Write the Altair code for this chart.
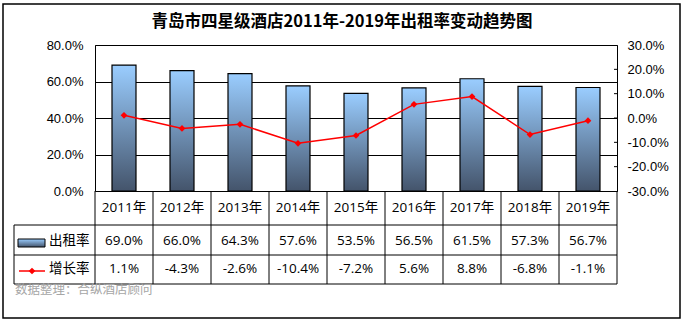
import altair as alt
import pandas as pd

years = ["2011年", "2012年", "2013年", "2014年", "2015年", "2016年", "2017年", "2018年", "2019年"]
occupancy = [0.690, 0.660, 0.643, 0.576, 0.535, 0.565, 0.615, 0.573, 0.567]
growth = [0.011, -0.043, -0.026, -0.104, -0.072, 0.056, 0.088, -0.068, -0.011]
series_names = ["出租率", "增长率"]
title_text = "青岛市四星级酒店2011年-2019年出租率变动趋势图"
source_text = "数据整理：合纵酒店顾问"
left_ticks = [0.0, 0.2, 0.4, 0.6, 0.8]
right_ticks = [-0.3, -0.2, -0.1, 0.0, 0.1, 0.2, 0.3]
right_minor = [-0.2, -0.1, 0.0, 0.1, 0.2]

df = pd.DataFrame({"year": years, "occ": occupancy, "gr": growth})
one = pd.DataFrame({"k": [0]})

W, H = 522, 146
TFONT = "Open Sans, Noto Sans CJK SC"
AFONT = "Liberation Sans, Arial"

xscale = alt.Scale(paddingInner=0, paddingOuter=0)
x_enc = alt.X("year:N", sort=years, scale=xscale, axis=None)

grad = alt.LinearGradient(
    gradient="linear",
    stops=[alt.GradientStop(color="#9ACDFF", offset=0),
           alt.GradientStop(color="#44546B", offset=1)],
    x1=0, x2=0, y1=0, y2=1,
)

bars = alt.Chart(df).mark_bar(size=24, fill=grad, stroke="black", strokeWidth=1.2).encode(
    x=x_enc,
    y=alt.Y("occ:Q", scale=alt.Scale(domain=[0, 0.8]),
            axis=alt.Axis(values=left_ticks, format=".1%", grid=True, gridColor="black",
                          gridOpacity=1, gridWidth=1, domain=False, ticks=False,
                          labelPadding=12, title=None, labelFont=AFONT,
                          labelFontSize=13, labelColor="black")),
)

right_axis = alt.Axis(orient="right", values=right_ticks, format=".1%",
                      labelExpr="replace(datum.label, '\u2212', '-')",
                      grid=False, domain=False, ticks=False, labelPadding=10,
                      title=None, labelFont=AFONT, labelFontSize=13, labelColor="black")
yr = alt.Y("gr:Q", scale=alt.Scale(domain=[-0.3, 0.3]), axis=right_axis)

line = alt.Chart(df).mark_line(
    color="#FF0000", strokeWidth=1.5,
    point=alt.OverlayMarkDef(shape="diamond", filled=True, color="#FF0000", size=45),
).encode(x=x_enc, y=yr)

rticks = alt.Chart(pd.DataFrame({"gr": right_minor})).mark_rule(color="black").encode(
    y=yr, x=alt.value(W - 3), x2=alt.value(W)
)

left_group = alt.layer(bars)
right_group = alt.layer(line, rticks)

# data table grid
vlines = alt.Chart(df).mark_rule(color="black").encode(
    x=alt.X("year:N", sort=years, scale=xscale, axis=None, bandPosition=0),
    y=alt.value(H), y2=alt.value(239),
)
def rule(x1, x2, y1, y2):
    return alt.Chart(one).mark_rule(color="black", strokeWidth=1).encode(
        x=alt.value(x1), x2=alt.value(x2), y=alt.value(y1), y2=alt.value(y2))

grid_rules = [
    rule(W, W, H, 239),
    rule(-81, W, 180, 180),
    rule(-81, W, 210, 210),
    rule(-81, W, 239, 239),
    rule(-81, -81, 180, 239),
]

year_text = alt.Chart(df).mark_text(font=TFONT, fontSize=13.5, color="black").encode(
    x=x_enc, y=alt.value(163), text="year:N")
occ_text = alt.Chart(df).transform_calculate(
    lab="replace(format(datum.occ, '.1%'), '\u2212', '-')"
).mark_text(font=TFONT, fontSize=13.5, color="black").encode(
    x=x_enc, y=alt.value(196), text="lab:N")
gr_text = alt.Chart(df).transform_calculate(
    lab="replace(format(datum.gr, '.1%'), '\u2212', '-')"
).mark_text(font=TFONT, fontSize=13.5, color="black").encode(
    x=x_enc, y=alt.value(224), text="lab:N")

leg_txt1 = alt.Chart(one).mark_text(font=TFONT, fontSize=13.5, align="left", color="black").encode(
    x=alt.value(-46), y=alt.value(196), text=alt.value(series_names[0]))
leg_txt2 = alt.Chart(one).mark_text(font=TFONT, fontSize=13.5, align="left", color="black").encode(
    x=alt.value(-46), y=alt.value(224), text=alt.value(series_names[1]))
leg_sw1 = alt.Chart(one).mark_rect(fill=grad, stroke="black", strokeWidth=1).encode(
    x=alt.value(-77), x2=alt.value(-50), y=alt.value(194), y2=alt.value(202))
leg_sw2 = alt.Chart(one).mark_rule(color="#FF0000", strokeWidth=1.5).encode(
    x=alt.value(-76), x2=alt.value(-50), y=alt.value(226))
leg_pt = alt.Chart(one).mark_point(shape="diamond", filled=True, color="#FF0000", size=45, opacity=1).encode(
    x=alt.value(-63), y=alt.value(226))

title = alt.Chart(one).mark_text(font="Noto Sans CJK SC", fontSize=16.5, fontWeight="bold", color="black").encode(
    x=alt.value(247), y=alt.value(-23), text=alt.value(title_text))
source = alt.Chart(one).mark_text(font="Noto Sans CJK SC", fontSize=12.5, align="left", baseline="top", color="#A6A6A6").encode(
    x=alt.value(-80), y=alt.value(239), text=alt.value(source_text))
border = alt.Chart(one).mark_rect(fill="white", fillOpacity=0, stroke="black", strokeWidth=1.5).encode(
    x=alt.value(-92), x2=alt.value(585), y=alt.value(-41), y2=alt.value(273))

chart = alt.layer(
    left_group, right_group, vlines, *grid_rules,
    year_text, occ_text, gr_text,
    leg_sw1, leg_sw2, leg_pt, leg_txt1, leg_txt2,
    title, source, border,
).resolve_scale(y="independent").properties(
    width=W, height=H,
    padding={"left": 95, "top": 45, "right": 68, "bottom": 132},
    autosize=alt.AutoSizeParams(type="none"),
    background="white",
).configure_view(stroke="black", strokeWidth=1)

chart.save("out.html", embed_options={"renderer": "svg", "actions": False})
